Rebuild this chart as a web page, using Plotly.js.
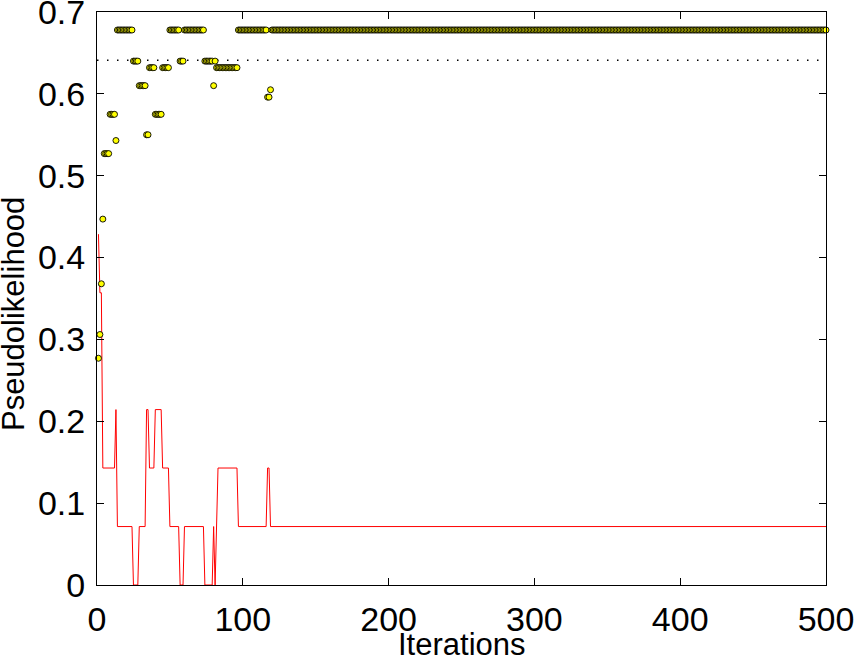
<!DOCTYPE html>
<html>
<head>
<meta charset="utf-8">
<script src="https://cdn.plot.ly/plotly-3.0.1.min.js"></script>
<style>
  html, body { margin: 0; padding: 0; background: #fff; }
  #chart { width: 855px; height: 658px; }
</style>
</head>
<body>
<div id="chart"></div>
<script>
// Pseudolikelihood per iteration, read as runs: a run starts at runStart[i]
// and keeps runValue[i] until the next run begins (last run goes to 500).
const N_ITER = 500;
const runStart = [1, 2, 3, 4, 5, 9, 13, 14, 25, 29, 34, 36, 40, 45, 50, 57, 60, 74, 80, 81, 82, 97, 117, 119, 120];
const runValue = [0.277, 0.306, 0.368, 0.447, 0.527, 0.575, 0.543, 0.678, 0.640, 0.610, 0.550, 0.632,
                  0.575, 0.632, 0.678, 0.640, 0.678, 0.640, 0.610, 0.640, 0.632, 0.678, 0.596, 0.605, 0.678];

// Red trace, given at the iterations where it bends.
const redX = [1, 2, 3, 4, 12, 13, 14, 24, 25, 28, 29, 33, 34, 35, 36, 39, 40, 44, 45, 49, 50, 56, 57,
              59, 60, 73, 74, 79, 80, 81, 83, 96, 97, 116, 117, 118, 119, 500];
const redY = [0.4286, 0.357, 0.357, 0.1429, 0.1429, 0.2143, 0.0714, 0.0714, 0, 0, 0.0714, 0.0714,
              0.2143, 0.2143, 0.1429, 0.1429, 0.2143, 0.2143, 0.1429, 0.1429, 0.0714, 0.0714, 0, 0,
              0.0714, 0.0714, 0, 0, 0.0714, 0, 0.1429, 0.1429, 0.0714, 0.0714, 0.1429, 0.1429, 0.0714, 0.0714];

// Dotted reference level.
const refLevel = 0.641;

const xTicks = [0, 100, 200, 300, 400, 500];
const yTicks = [0, 0.1, 0.2, 0.3, 0.4, 0.5, 0.6, 0.7];

function expandRuns(starts, values, last) {
  const xs = [], ys = [];
  for (let i = 0; i < starts.length; i++) {
    const end = i + 1 < starts.length ? starts[i + 1] - 1 : last;
    for (let k = starts[i]; k <= end; k++) {
      xs.push(k);
      ys.push(values[i]);
    }
  }
  return { xs, ys };
}

const pts = expandRuns(runStart, runValue, N_ITER);
const FONT = 'Liberation Sans, Arial, Helvetica, sans-serif';

const traces = [
  {
    x: [0, N_ITER], y: [refLevel, refLevel],
    mode: 'lines', type: 'scatter',
    line: { color: '#000', width: 1.4, dash: '1.5px,8.5px' },
    hoverinfo: 'skip',
  },
  {
    x: redX, y: redY,
    mode: 'lines', type: 'scatter',
    line: { color: '#ff0000', width: 1 },
    cliponaxis: false,
  },
  {
    x: pts.xs, y: pts.ys,
    mode: 'markers', type: 'scatter',
    marker: { size: 6, color: '#ffff00', line: { color: '#000', width: 0.9 } },
    cliponaxis: false,
  },
];

const axisCommon = {
  showline: true, linecolor: '#000', linewidth: 1,
  mirror: 'allticks', ticks: 'inside', ticklen: 7, tickwidth: 1, tickcolor: '#000',
  showgrid: false, zeroline: false,
  tickfont: { family: FONT, size: 34, color: '#000' },
  tickmode: 'array',
  ticklabeloverflow: 'allow',
  automargin: false,
};

Plotly.newPlot('chart', traces, {
  width: 855, height: 658,
  margin: { l: 97, r: 29, t: 12, b: 73 },
  paper_bgcolor: '#fff', plot_bgcolor: '#fff',
  showlegend: false,
  xaxis: Object.assign({}, axisCommon, {
    range: [0, N_ITER],
    tickvals: xTicks, ticktext: xTicks.map(String),
    ticklabelstandoff: 4,
  }),
  yaxis: Object.assign({}, axisCommon, {
    range: [0, 0.7],
    tickvals: yTicks, ticktext: yTicks.map(v => v === 0 ? '0' : v.toFixed(1)),
    ticklabelstandoff: 4,
  }),
  // axis titles as annotations so they sit where the reference puts them
  annotations: [
    {
      text: 'Pseudolikelihood', textangle: -90,
      xref: 'paper', x: 0, xanchor: 'right', xshift: -65,
      yref: 'paper', y: 0.472, yanchor: 'middle',
      showarrow: false, borderpad: 0,
      font: { family: FONT, size: 31, color: '#000' },
    },
    {
      text: 'Iterations',
      xref: 'paper', x: 0.5, xanchor: 'center',
      yref: 'paper', y: 0, yanchor: 'top', yshift: -41,
      showarrow: false, borderpad: 0,
      font: { family: FONT, size: 31, color: '#000' },
    },
  ],
}, { displayModeBar: false, staticPlot: true });
</script>
</body>
</html>
